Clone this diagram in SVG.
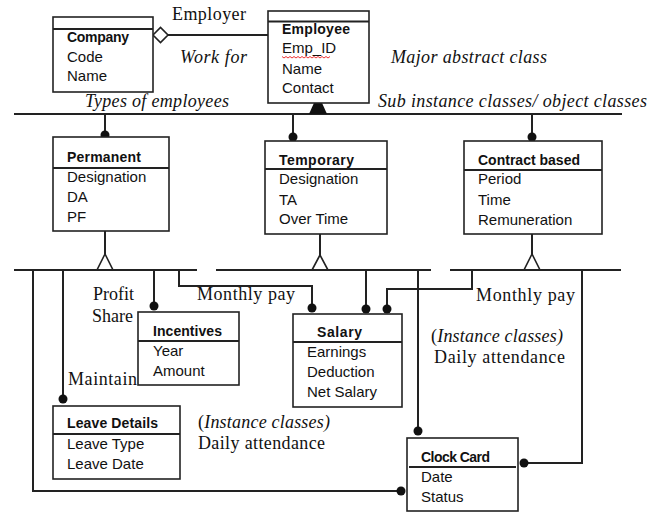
<svg xmlns="http://www.w3.org/2000/svg" width="663" height="512" viewBox="0 0 663 512">
<style>
.box{fill:#fff;stroke:#222;stroke-width:1.6}
.div{stroke:#222;stroke-width:2}
.ln{fill:none;stroke:#222;stroke-width:2}
.dot{fill:#111}
.tri{fill:#fff;stroke:#222;stroke-width:1.6}
.h{font-family:"Liberation Sans",Arial,sans-serif;font-weight:bold;font-size:14px;fill:#111}
.a{font-family:"Liberation Sans",Arial,sans-serif;font-size:15px;fill:#111}
.s{font-family:"Liberation Serif","Times New Roman",serif;font-size:18px;fill:#111}
.i{font-style:italic}
</style>
<rect width="663" height="512" fill="#fff"/>
<g id="connectors">
<path class="ln" d="M14 114H622"/>
<path class="ln" d="M168 35H268"/>
<polygon points="153,35 160.5,27.5 168,35 160.5,42.5" fill="#fff" stroke="#222" stroke-width="1.6"/>
<polygon points="318,94 309,114 327,114" fill="#111"/>
<path class="ln" d="M105 114V135M293 114V138M532 114V137"/>
<circle class="dot" cx="105" cy="135" r="4.5"/>
<circle class="dot" cx="293" cy="137" r="4.5"/>
<circle class="dot" cx="532" cy="137" r="4.5"/>
<path class="ln" d="M105 231V254M320 234V255M532 234V254"/>
<polygon class="tri" points="105,254 97,270 113,270"/>
<polygon class="tri" points="320,255 312,270 328,270"/>
<polygon class="tri" points="532,254 524,270 540,270"/>
<path class="ln" d="M14 270H197M216 270H431M450 270H621"/>
<path class="ln" d="M33 270V491H401"/>
<path class="ln" d="M63 270V399"/>
<path class="ln" d="M154 270V307"/>
<path class="ln" d="M179 270V286H312V308"/>
<path class="ln" d="M366 270V309"/>
<path class="ln" d="M418 270V431"/>
<path class="ln" d="M472 270V289H387V309"/>
<path class="ln" d="M582 270V463H524"/>
<circle class="dot" cx="154" cy="306" r="4.5"/>
<circle class="dot" cx="312" cy="308" r="4.5"/>
<circle class="dot" cx="366" cy="309" r="4.5"/>
<circle class="dot" cx="387" cy="309" r="4.5"/>
<circle class="dot" cx="63" cy="399" r="4.5"/>
<circle class="dot" cx="418" cy="431" r="4.5"/>
<circle class="dot" cx="401" cy="491" r="4.5"/>
<circle class="dot" cx="524" cy="463" r="4.5"/>
</g>
<g id="company">
<rect class="box" x="53" y="17" width="100" height="75"/>
<path class="div" d="M53 29H153"/>
<text class="h" x="67" y="42" textLength="62">Company</text>
<text class="a" x="67" y="62">Code</text>
<text class="a" x="67" y="81">Name</text>
</g>
<g id="employee">
<rect class="box" x="268" y="11" width="101" height="92"/>
<path class="div" d="M268 21.5H369"/>
<text class="h" x="282" y="34" textLength="68">Employee</text>
<text class="a" x="282" y="53">Emp_ID</text>
<path d="M282 56.5l2 1.5 2-1.5 2 1.5 2-1.5 2 1.5 2-1.5 2 1.5 2-1.5 2 1.5 2-1.5 2 1.5 2-1.5 2 1.5 2-1.5 2 1.5 2-1.5 2 1.5 2-1.5 2 1.5 2-1.5 2 1.5 2-1.5 2 1.5 2-1.5" fill="none" stroke="#e33" stroke-width="1"/>
<text class="a" x="282" y="74">Name</text>
<text class="a" x="282" y="93">Contact</text>
</g>
<g id="permanent">
<rect class="box" x="53" y="137" width="116" height="94"/>
<path class="div" d="M53 168H169"/>
<text class="h" x="67" y="162" textLength="74">Permanent</text>
<text class="a" x="67" y="182">Designation</text>
<text class="a" x="67" y="202">DA</text>
<text class="a" x="67" y="222">PF</text>
</g>
<g id="temporary">
<rect class="box" x="265" y="141" width="122" height="93"/>
<path class="div" d="M265 169H387"/>
<text class="h" x="279" y="165" textLength="75">Temporary</text>
<text class="a" x="279" y="184">Designation</text>
<text class="a" x="279" y="205">TA</text>
<text class="a" x="279" y="224">Over Time</text>
</g>
<g id="contract">
<rect class="box" x="464" y="141" width="138" height="93"/>
<path class="div" d="M464 170H602"/>
<text class="h" x="478" y="165" textLength="102">Contract based</text>
<text class="a" x="478" y="184">Period</text>
<text class="a" x="478" y="205">Time</text>
<text class="a" x="478" y="225">Remuneration</text>
</g>
<g id="incentives">
<rect class="box" x="138" y="312" width="101" height="73"/>
<path class="div" d="M138 341H239"/>
<text class="h" x="153" y="336" textLength="69">Incentives</text>
<text class="a" x="153" y="356">Year</text>
<text class="a" x="153" y="376">Amount</text>
</g>
<g id="salary">
<rect class="box" x="293" y="314" width="109" height="93"/>
<path class="div" d="M293 342H402"/>
<text class="h" x="317" y="337" textLength="45">Salary</text>
<text class="a" x="307" y="357">Earnings</text>
<text class="a" x="307" y="377">Deduction</text>
<text class="a" x="307" y="397">Net Salary</text>
</g>
<g id="leave">
<rect class="box" x="53" y="406" width="127" height="73"/>
<path class="div" d="M53 434H180"/>
<text class="h" x="67" y="428" textLength="91">Leave Details</text>
<text class="a" x="67" y="449">Leave Type</text>
<text class="a" x="67" y="469">Leave Date</text>
</g>
<g id="clockcard">
<rect class="box" x="407" y="438" width="111" height="73"/>
<path class="div" d="M409 467H516"/>
<text class="h" x="421" y="462" textLength="69">Clock Card</text>
<text class="a" x="421" y="482">Date</text>
<text class="a" x="421" y="502">Status</text>
</g>
<g id="labels">
<text class="s" x="172" y="20" textLength="74">Employer</text>
<text class="s i" x="180" y="63" textLength="67">Work for</text>
<text class="s i" x="391" y="63" textLength="156">Major abstract class</text>
<text class="s i" x="85" y="107" textLength="144">Types of employees</text>
<text class="s i" x="378" y="107" textLength="269">Sub instance classes/ object classes</text>
<text class="s" x="93" y="300" textLength="41">Profit</text>
<text class="s" x="92" y="322" textLength="41">Share</text>
<text class="s" x="197" y="300" textLength="98">Monthly pay</text>
<text class="s" x="476" y="301" textLength="99">Monthly pay</text>
<text class="s" x="68" y="385" textLength="69">Maintain</text>
<text class="s" x="198" y="428" textLength="132">(<tspan class="i">Instance classes)</tspan></text>
<text class="s" x="198" y="449" textLength="127">Daily attendance</text>
<text class="s" x="431" y="342" textLength="132">(<tspan class="i">Instance classes)</tspan></text>
<text class="s" x="434" y="363" textLength="131">Daily attendance</text>
</g>
</svg>
